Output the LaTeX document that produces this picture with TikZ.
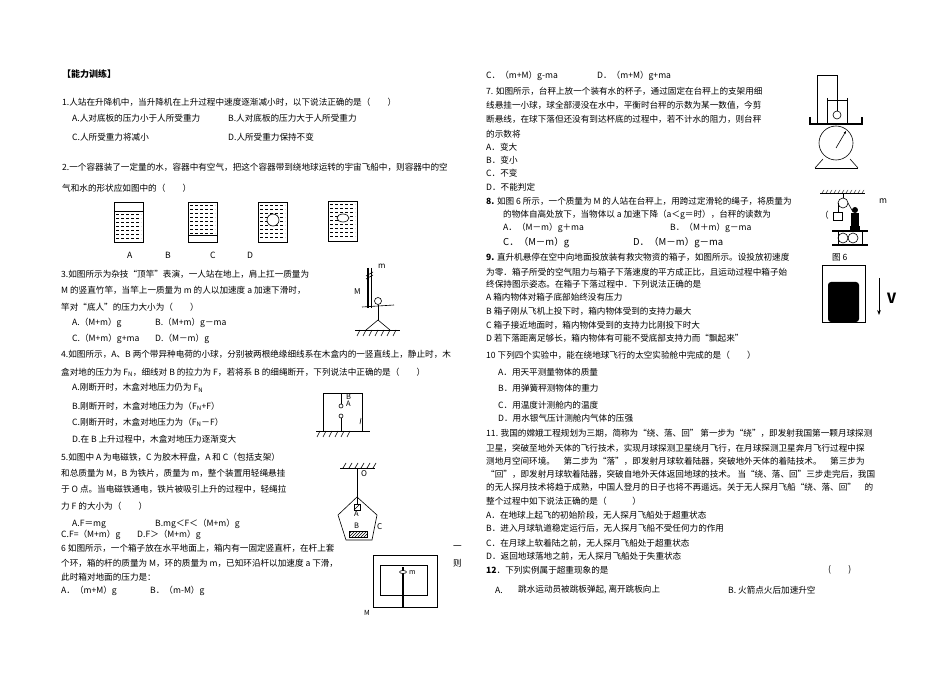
\documentclass[tikz,border=0pt]{standalone}
\usepackage{fontspec}
\setmainfont{Noto Sans CJK SC}
\usetikzlibrary{patterns,arrows.meta}
\tikzset{
 t/.style={anchor=west,inner sep=0,font=\fontsize{8.6}{9}\selectfont},
 ln/.style={line width=0.6pt},
 hatch/.style={pattern=north east lines},
}
\newcommand{\water}[3]{\foreach \yy in {#3}{\draw[densely dashed,line width=0.4pt] (#1,\yy) -- (#2,\yy);}}
\begin{document}
\begin{tikzpicture}[x=1pt,y=-1pt]
\useasboundingbox (0,0) rectangle (950,676);
\fill[white] (0,0) rectangle (950,676);
% ---------- left column ----------
\node[t,font=\fontsize{9}{9}\selectfont\bfseries] (h) at (62,74) {【能力训练】};
\node[t] (q1) at (62,102) {1.人站在升降机中，当升降机在上升过程中速度逐渐减小时，以下说法正确的是（　　）};
\node[t] (q1a) at (72,118) {A.人对底板的压力小于人所受重力};
\node[t] (q1b) at (228,118) {B.人对底板的压力大于人所受重力};
\node[t] (q1c) at (72,137) {C.人所受重力将减小};
\node[t] (q1d) at (228,137) {D.人所受重力保持不变};
\node[t] (q2) at (62,167) {2.一个容器装了一定量的水，容器中有空气，把这个容器带到绕地球运转的宇宙飞船中，则容器中的空};
\node[t] (q2b) at (62,188) {气和水的形状应如图中的（　　）};
% containers
\draw[ln] (114,202) rectangle (143,242); \draw[ln] (114,211)--(143,211); \water{116}{141}{214,218,...,240}
\draw[ln] (188,202) rectangle (217,242); \draw[ln] (188,235)--(217,235); \water{190}{215}{205,209,...,233}
\draw[ln] (258,202) rectangle (287,242); \water{260}{285}{205,209,...,240}
\fill[white] (273,220) circle (6); \draw[ln] (273,220) circle (6);
\draw[ln] (328,201) rectangle (357,241); \water{330}{355}{204,208,...,239}
\fill[white] (343,218) ellipse (6 and 4); \draw[ln] (343,218) ellipse (6 and 4);
\node[t] (la) at (127,255) {A}; \node[t] (lb) at (165,255) {B};
\node[t] (lc) at (210,255) {C}; \node[t] (ld) at (247,255) {D};
\node[t] (q3) at (61,274) {3.如图所示为杂技“顶竿”表演，一人站在地上，肩上扛一质量为};
\node[t] (q3b) at (61,290) {M 的竖直竹竿，当竿上一质量为 m 的人以加速度 a 加速下滑时，};
\node[t] (q3c) at (61,307) {竿对“底人”的压力大小为（　　）};
\node[t] (q3A) at (72,323) {A.（M+m）g};
\node[t] (q3B) at (155,323) {B.（M+m）g－ma};
\node[t] (q3C) at (72,339) {C.（M+m）g+ma};
\node[t] (q3D) at (155,339) {D.（M－m）g};
% fig 3
\draw[line width=1.2pt] (368,268)--(368,308); \draw[ln] (371,268)--(371,308);
\draw[ln] (366,276)--(373,272); \draw[ln] (366,279)--(373,275);
\node[t,font=\fontsize{8}{8}\selectfont] (m3) at (378,266) {m};
\node[t,font=\fontsize{8}{8}\selectfont] (M3) at (354,292) {M};
\draw[ln] (378,301) circle (3.5);
\draw[ln] (378,305)--(378,320); \draw[ln] (362,307)--(378,306)--(394,305);
\draw[ln] (366,330)--(378,320)--(390,330);
\draw[ln] (355,330)--(400,330);
\foreach \x in {360,366,...,396}{\draw[ln] (\x,330)--(\x-3,336);}
\node[t] (q4) at (61,354) {4.如图所示，A、B 两个带异种电荷的小球，分别被两根绝缘细线系在木盒内的一竖直线上，静止时，木};
\node[t] (q4b) at (61,372) {盒对地的压力为 F\textsubscript{N}，细线对 B 的拉力为 F，若将系 B 的细绳断开，下列说法中正确的是（　　）};
\node[t] (q4A) at (72,388) {A.刚断开时，木盒对地压力仍为 F\textsubscript{N}};
\node[t] (q4B) at (72,406) {B.刚断开时，木盒对地压力为（F\textsubscript{N}+F）};
\node[t] (q4C) at (72,422) {C.刚断开时，木盒对地压力为（F\textsubscript{N}－F）};
\node[t] (q4D) at (72,439) {D.在 B 上升过程中，木盒对地压力逐渐变大};
% fig 4
\draw[ln] (323,393) rectangle (362,431);
\draw[ln] (316,431)--(370,431);
\foreach \x in {320,326,...,350}{\draw[ln] (\x,431)--(\x-3,437);}
\draw[ln] (341,393)--(341,404); \draw[ln] (341,406) circle (2);
\draw[ln] (341,416) circle (2); \draw[ln] (341,418)--(341,431);
\draw[ln] (361,418)--(360,424);
\node[t,font=\fontsize{7.5}{7.5}\selectfont] (B4) at (346,397) {B};
\node[t,font=\fontsize{7.5}{7.5}\selectfont] (A4) at (346,404) {A};
\node[t] (q5) at (61,457) {5.如图中 A 为电磁铁，C 为胶木秤盘，A 和 C（包括支架）};
\node[t] (q5b) at (61,473) {和总质量为 M，B 为铁片，质量为 m，整个装置用轻绳悬挂};
\node[t] (q5c) at (61,489) {于 O 点。当电磁铁通电，铁片被吸引上升的过程中，轻绳拉};
\node[t] (q5d) at (61,506) {力 F 的大小为（　　）};
\node[t] (q5A) at (72,524) {A.F＝mg};
\node[t] (q5B) at (155,524) {B.mg＜F＜（M+m）g};
\node[t] (q5C) at (61,535) {C.F=（M+m）g};
\node[t] (q5D) at (137,535) {D.F＞（M+m）g};
% fig 5
\draw[ln] (340,468)--(375,468);
\foreach \x in {343,349,...,373}{\draw[ln] (\x,468)--(\x+3,463);}
\node[t,font=\fontsize{8}{8}\selectfont] (O5) at (361,474) {O};
\draw[ln] (357,468)--(357,497);
\draw[ln] (357,497)--(377,515)--(372,540)--(346,540)--(338,515)--cycle;
\draw[ln] (357,497)--(357,504);
\draw[ln] (354,504) rectangle (360,510); \draw[ln] (354,510)--(360,504);
\node[t,font=\fontsize{7.5}{7.5}\selectfont] (A5) at (354,514) {A};
\node[t,font=\fontsize{7.5}{7.5}\selectfont] (B5) at (354,526) {B};
\node[t,font=\fontsize{8}{8}\selectfont] (C5) at (377,527) {C};
\draw[ln,hatch] (349,531) rectangle (367,537);
\node[t] (q6) at (61,548) {6 如图所示，一个箱子放在水平地面上，箱内有一固定竖直杆，在杆上套};
\node[t] (q6b) at (61,563) {个环，箱的杆的质量为 M，环的质量为 m，已知环沿杆以加速度 a 下滑，};
\node[t] (q6c) at (61,577) {此时箱对地面的压力是：};
\node[t] (q6A) at (61,591) {A．（m+M）g};
\node[t] (q6B) at (150,591) {B．（m-M）g};
\node[t] (yi) at (453,548) {一};
\node[t] (ze) at (453,563) {则};
% fig 6
\draw[ln] (373,555) rectangle (437,607);
\draw[ln] (380,565) rectangle (427,595);
\draw[line width=1.6pt] (403,567)--(403,607);
\draw[ln,fill=white] (403,572) ellipse (3.5 and 1.5);
\node[t,font=\fontsize{7}{7}\selectfont\itshape] (m6) at (409,573) {m};
\node[t,font=\fontsize{7}{7}\selectfont\itshape] (M6) at (364,613) {M};
% ---------- right column ----------
\node[t] (q6C) at (486,76) {C．（m+M）g-ma};
\node[t] (q6D) at (597,76) {D．（m+M）g+ma};
\node[t] (q7) at (486,91) {7. 如图所示，台秤上放一个装有水的杯子，通过固定在台秤上的支架用细};
\node[t] (q7b) at (486,105) {线悬挂一小球，球全部浸没在水中，平衡时台秤的示数为某一数值，今剪};
\node[t] (q7c) at (486,119) {断悬线，在球下落但还没有到达杯底的过程中，若不计水的阻力，则台秤};
\node[t] (q7d) at (486,134) {的示数将};
\node[t] (q7A) at (486,147) {A．变大};
\node[t] (q7B) at (486,160) {B．变小};
\node[t] (q7C) at (486,173) {C．不变};
\node[t] (q7D) at (486,187) {D．不能判定};
% fig 7
\draw[ln] (817,123)--(817,75)--(837,75)--(837,111);
\draw[ln] (837,115) circle (4);
\draw[ln] (827,98)--(827,124); \draw[ln] (847,98)--(847,124);
\draw[ln] (827,100)--(847,100);
\draw[line width=1.4pt] (810,117)--(810,124)--(862,124)--(862,117);
\draw[ln] (836,143) circle (17);
\draw[ln,-{Stealth[length=3pt]}] (836,148)--(846,131);
\draw[ln] (815,168)--(823,159); \draw[ln] (858,168)--(850,159); \draw[ln] (815,168)--(858,168);
\node[t] (q8) at (486,201) {\textbf{8.} 如图 6 所示，一个质量为 M 的人站在台秤上，用跨过定滑轮的绳子，将质量为};
\node[t] (m8) at (879,201) {m};
\node[t] (q8b) at (503,215) {的物体自高处放下，当物体以 a 加速下降（a＜g＝时），台秤的读数为};
\node[t] (par) at (820,215) {（};
\node[t] (q8A) at (503,228) {A．（M－m）g＋ma};
\node[t] (q8B) at (670,228) {B．（M＋m）g－ma};
\node[t,font=\fontsize{9.5}{10}\selectfont] (q8C) at (503,243) {C．（M－m）g};
\node[t,font=\fontsize{9.5}{10}\selectfont] (q8D) at (633,243) {D．（M－m）g－ma};
% fig 8
\draw[ln] (820,193)--(865,193);
\foreach \x in {822,826,...,862}{\draw[line width=0.3pt] (\x,193)--(\x+2,190);}
\draw[ln] (843,193)--(843,198); \draw[ln] (843,203) circle (5);
\draw[ln] (838,203)--(838,212); \draw[ln] (833,212) rectangle (842,220);
\draw[ln] (848,203)--(853,212);
\fill (855,210) circle (3); \fill (851,213) rectangle (859,226); \fill (850,226) rectangle (860,230);
\draw[line width=1.2pt] (832,231)--(868,231);
\draw[ln] (843,238) circle (5); \draw[ln] (853,238) circle (5);
\draw[line width=1.2pt] (832,245)--(868,245);
\draw[ln] (838,231)--(838,245); \draw[ln] (862,231)--(862,245);
\node[t] (q9) at (486,257) {\textbf{9.} 直升机悬停在空中向地面投放装有救灾物资的箱子，如图所示。设投放初速度};
\node[t] (q9b) at (486,272) {为零．箱子所受的空气阻力与箱子下落速度的平方成正比，且运动过程中箱子始};
\node[t] (q9c) at (486,284) {终保持图示姿态。在箱子下落过程中．下列说法正确的是};
\node[t] (q9A) at (486,297) {A 箱内物体对箱子底部始终没有压力};
\node[t] (q9B) at (486,311) {B 箱子刚从飞机上投下时，箱内物体受到的支持力最大};
\node[t] (q9C) at (486,325) {C 箱子接近地面时，箱内物体受到的支持力比刚投下时大};
\node[t] (q9D) at (486,338) {D 若下落距离足够长，箱内物体有可能不受底部支持力而“飘起来”};
\node[t] (fig6) at (832,257) {图 6};
\draw[line width=1pt] (822,266) rectangle (865,322);
\fill[rounded corners=3pt] (828,322)--(828,282)--(859,282)--(859,322)--cycle;
\draw[line width=1pt,-{Stealth[length=5pt]}] (879,278)--(879,315);
\node[t,font=\fontsize{14}{14}\selectfont\bfseries] (V) at (887,298) {V};
\node[t] (q10) at (486,355) {10 下列四个实验中，能在绕地球飞行的太空实验舱中完成的是（　　）};
\node[t] (q10A) at (498,372) {A．用天平测量物体的质量};
\node[t] (q10B) at (498,388) {B．用弹簧秤测物体的重力};
\node[t] (q10C) at (498,405) {C．用温度计测舱内的温度};
\node[t] (q10D) at (498,418) {D．用水银气压计测舱内气体的压强};
\node[t] (q11) at (486,433) {11. 我国的嫦娥工程规划为三期，简称为“绕、落、回” 第一步为“绕”，即发射我国第一颗月球探测};
\node[t] (q11b) at (486,448) {卫星，突破至地外天体的飞行技术，实现月球探测卫星绕月飞行，在月球探测卫星奔月飞行过程中探};
\node[t] (q11c) at (486,461) {测地月空间环境。　第二步为“落”，即发射月球软着陆器，突破地外天体的着陆技术。　第三步为};
\node[t] (q11d) at (486,474) {“回”，即发射月球软着陆器，突破自地外天体返回地球的技术。 当“绕、落、回”三步走完后，我国};
\node[t] (q11e) at (486,487) {的无人探月技术将趋于成熟，中国人登月的日子也将不再遥远。关于无人探月飞船“绕、落、回”　的};
\node[t] (q11f) at (486,501) {整个过程中如下说法正确的是（　　　）};
\node[t] (q11A) at (486,515) {A．在地球上起飞的初始阶段，无人探月飞船处于超重状态};
\node[t] (q11B) at (486,528) {B．进入月球轨道稳定运行后，无人探月飞船不受任何力的作用};
\node[t] (q11C) at (486,543) {C．在月球上软着陆之前，无人探月飞船处于超重状态};
\node[t] (q11D) at (486,556) {D．返回地球落地之前，无人探月飞船处于失重状态};
\node[t] (q12) at (486,570) {\textbf{12}．下列实例属于超重现象的是};
\node[t] (q12p) at (828,570) {(　　)};
\node[t] (q12A) at (495,590) {A.};
\node[t] (q12At) at (518,590) {跳水运动员被跳板弹起, 离开跳板向上};
\node[t] (q12B) at (728,590) {B. 火箭点火后加速升空};
\end{tikzpicture}
\end{document}
